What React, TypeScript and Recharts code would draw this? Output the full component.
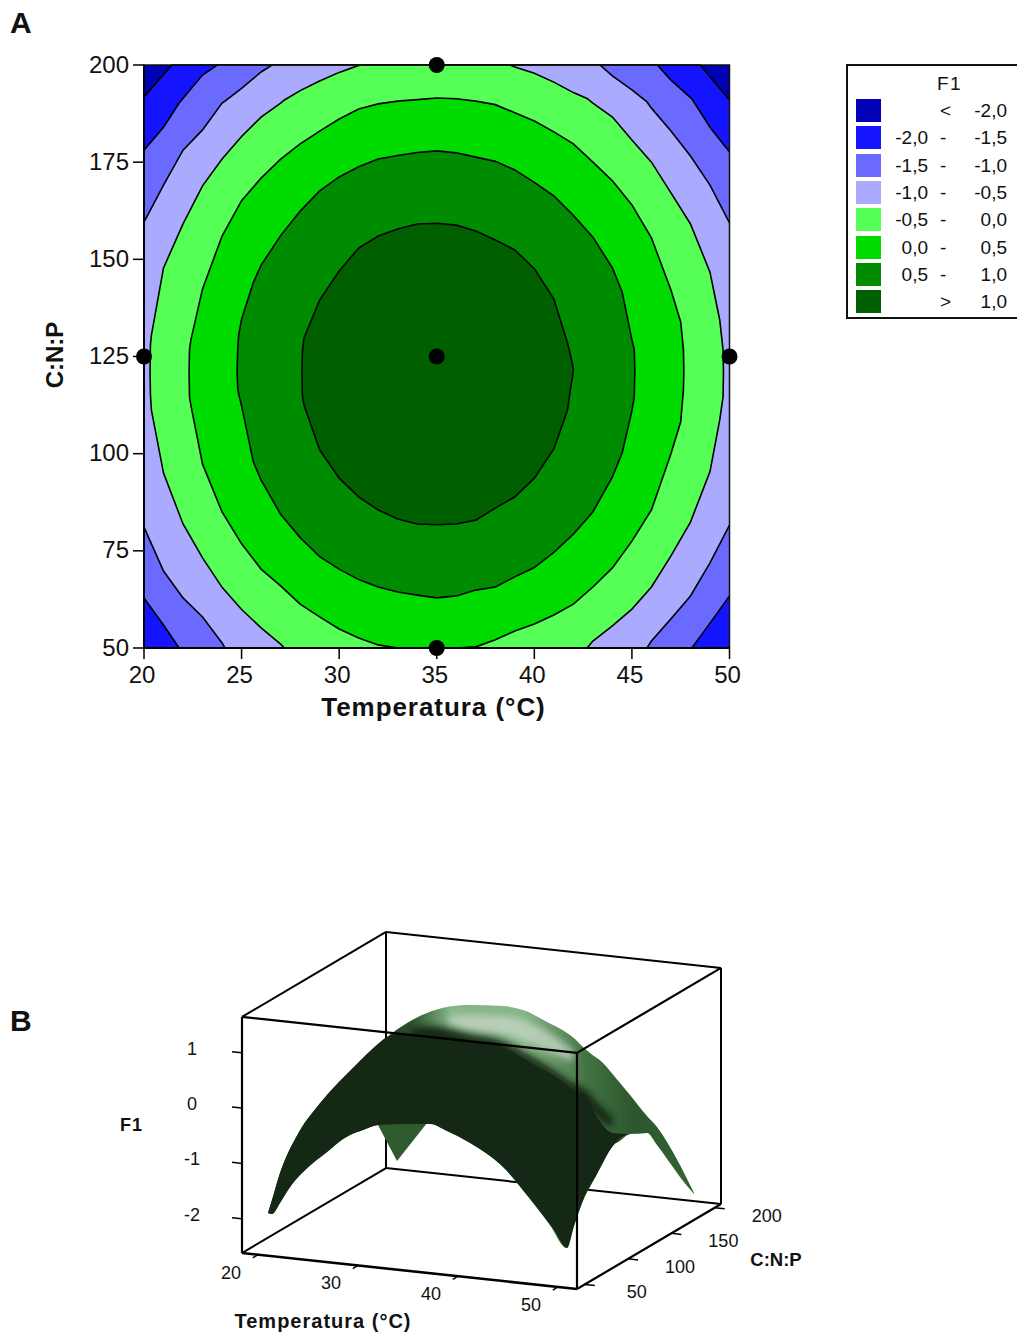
import { Area, ComposedChart, Line, ReferenceArea, Scatter, XAxis, YAxis } from 'recharts';

type Row = [number, number, number];

const FONT = '"Liberation Sans", Arial, sans-serif';
const INK = '#111111';

// contour regions of F1, each row is [temperature, lowest C:N:P, highest C:N:P]
const plotExtent: Row[] = [[20, 50, 200], [50, 50, 200]];
const contourMinus20: Row[] = [[20, 50, 191.8], [21.43, 50, 200], [48.5, 50, 200], [50, 50, 191]];
const contourMinus15: Row[] = [
  [20, 62.9, 178.1], [21, 55.9, 184], [21.8, 50, 190.2], [23, 50, 197.4], [23.75, 50, 200], [46.3, 50, 200],
  [47, 50, 196.1], [48.07, 50, 191.3], [49, 56.4, 184], [50, 63.4, 177.6],
];
const contourMinus10: Row[] = [
  [20, 81.1, 159.6], [21, 69.8, 169.1], [22, 62.9, 178.1], [23, 58, 183.3], [24, 51.3, 190.2], [24.15, 50, 190.7],
  [25, 50, 194], [26, 50, 198.2], [26.56, 50, 200], [43.36, 50, 200], [44, 50, 197.2], [45, 50, 193.6],
  [45.77, 50, 190.5], [46, 51.8, 188.9], [47, 57.5, 183], [48, 63.4, 176.6], [49, 71.9, 169.1], [50, 81.6, 159.4],
];
const contourMinus05: Row[] = [
  [20.31, 121, 121], [20.33, 115.1, 128], [20.38, 111.2, 130.5], [21, 95, 147.8], [22, 81.9, 159.1], [23, 73.2, 168.9],
  [24, 65.6, 175.8], [25, 59.9, 181.6], [26, 55.2, 186.6], [27, 51, 190.2], [27.2, 50, 191], [28, 50, 193.4],
  [29, 50, 195.9], [30, 50, 198.1], [31, 50, 199.9], [31.2, 50, 200], [38.75, 50, 200], [39, 50, 199.5], [40, 50, 197.9],
  [41, 50, 195.6], [42, 50, 192.9], [42.7, 50, 191.4], [43, 51.8, 190.2], [44, 55.7, 186.6], [45, 60, 180.7],
  [46, 65.7, 175], [47, 73.7, 167.1], [48, 82.4, 159.1], [49, 95.4, 146.7], [49.5, 108.7, 134.4], [49.67, 114.6, 126.7],
  [49.69, 121, 121],
];
const contourZero: Row[] = [
  [22.31, 120.8, 120.8], [22.33, 114.6, 126.7], [22.4, 112.5, 129.2], [23, 97.3, 142.4], [24, 85, 156], [25, 76.8, 165.1],
  [26, 70.3, 170.9], [27, 66, 175.8], [28, 61.3, 179.7], [29, 58, 183], [30, 54.9, 186.1], [31, 52.6, 188.7],
  [32, 50.8, 190], [33, 50, 190.7], [34, 50, 191.1], [35, 50, 191.5], [36, 50, 191.3], [37, 50.3, 190.7], [38, 52.1, 189.8],
  [39, 54.4, 187.7], [40, 56.2, 185.6], [41, 58.5, 182.8], [42, 61.3, 179.7], [43, 65.7, 175], [44, 70.6, 170.2],
  [45, 77.5, 164], [46, 85.5, 155.5], [47, 100, 142.1], [47.5, 108.2, 133.9], [47.64, 116.4, 126.7], [47.66, 121.5, 121.5],
];
const contourPlus05: Row[] = [
  [24.77, 121, 121], [24.8, 116.9, 126.7], [24.85, 115.4, 130.5], [25, 112.3, 134.6], [25.6, 97.9, 144], [26, 93.2, 148.5],
  [27, 84.4, 156.1], [28, 78.4, 162.4], [29, 73.5, 167.6], [30, 70.3, 171.2], [31, 67.6, 173.8], [32, 65.7, 175.8],
  [33, 64.4, 176.7], [34, 63.6, 177.5], [35, 62.9, 177.9], [36, 63.4, 177.4], [37, 64.9, 176.3], [38, 65.7, 175.2],
  [39, 68.3, 173], [40, 70.7, 169.8], [41, 74.6, 166.3], [42, 79.3, 161.3], [43, 85, 155.7], [44, 94, 147.8],
  [44.5, 100.2, 141.6], [45, 111, 129.3], [45.12, 114.6, 126.7], [45.15, 121.5, 121.5],
];
const contourPlus10: Row[] = [
  [28.09, 120.5, 120.5], [28.12, 114.6, 126.7], [28.2, 112.5, 129.8], [29, 101, 139.5], [30, 93.7, 147], [31, 88.9, 152.9],
  [32, 85.5, 156], [33, 83.2, 157.8], [34, 81.9, 159.1], [35, 81.7, 159.3], [36, 81.9, 158.8], [37, 82.9, 157.3],
  [38, 86, 155], [39, 88.9, 152.4], [40, 93.7, 147.6], [41, 101.2, 139.8], [41.7, 111.2, 128.5], [41.85, 116.6, 125.4],
  [41.95, 119.5, 123.2], [42, 121.5, 121.5],
];
const designPoints = [
  { t: 35, cn: 200 }, { t: 35, cn: 125 }, { t: 35, cn: 50 }, { t: 20, cn: 125 }, { t: 50, cn: 125 },
];
const contourTicksX = [20, 25, 30, 35, 40, 45, 50];
const contourTicksY = [50, 75, 100, 125, 150, 175, 200];

const legendColors = ['#0000b4', '#1414ff', '#6a6aff', '#aaaaff', '#55ff55', '#00dc00', '#008c00', '#006000'];
const legendFrom = ['', '-2,0', '-1,5', '-1,0', '-0,5', '0,0', '0,5', ''];
const legendSign = ['<', '-', '-', '-', '-', '-', '-', '>'];
const legendTo = ['-2,0', '-1,5', '-1,0', '-0,5', '0,0', '0,5', '1,0', '1,0'];

// surface in the view plane, rows are [across, top edge, bottom edge]
const surfaceOutline: Row[] = [
  [268, 1213, 1213], [272, 1200, 1214], [280, 1173, 1203], [288, 1153, 1190], [293, 1143, 1183], [302, 1127, 1173],
  [313, 1112, 1163], [327, 1095, 1152], [343, 1078, 1139], [350, 1071, 1135], [363, 1058, 1130], [378, 1044, 1125],
  [387, 1037, 1124.5], [407, 1023, 1124], [427, 1013, 1123], [447, 1007, 1131], [470, 1005, 1143], [503, 1006, 1167],
  [523, 1010, 1190], [547, 1022, 1220], [567, 1033, 1248], [575, 1039, 1223], [583, 1047, 1200], [590, 1053, 1187],
  [603, 1063, 1162], [610, 1071, 1148], [620, 1083, 1141], [630, 1095, 1134], [647, 1116, 1133], [657, 1127, 1145],
  [670, 1147, 1163], [680, 1165, 1177], [694, 1193, 1194],
];
const surfaceFront: Row[] = [
  [268, 1213, 1213], [272, 1200, 1214], [280, 1173, 1203], [288, 1153, 1190], [293, 1143, 1183], [302, 1127, 1173],
  [313, 1112, 1163], [327, 1095, 1152], [343, 1078, 1139], [350, 1071, 1135], [363, 1058, 1130], [378, 1044, 1125],
  [387, 1037, 1124.5], [400, 1034, 1124], [430, 1034, 1124], [447, 1036, 1131], [470, 1040, 1143], [503, 1047, 1167],
  [530, 1062, 1199], [553, 1075, 1229], [567, 1085, 1248], [573, 1090, 1229], [585, 1095, 1196], [597, 1117, 1174],
  [613, 1133, 1146], [630, 1134, 1134], [647, 1133, 1133],
];
const surfaceNotch: Row[] = [[378, 1124, 1125], [397, 1124, 1161], [427, 1123, 1123]];
const surfaceGlow: Row[] = [
  [450, 1016, 1024], [470, 1015, 1030], [503, 1016, 1034], [530, 1023, 1043], [553, 1035, 1054], [573, 1050, 1062],
];
const surfaceShade: Row[] = [
  [410, 1029, 1042], [430, 1026, 1040], [470, 1034, 1045], [503, 1041, 1052], [530, 1055, 1066], [553, 1069, 1080],
  [573, 1083, 1095], [585, 1089, 1105], [597, 1102, 1118], [613, 1118, 1128],
];

const boxT = [18.4, 51.9];
const boxCn = [41, 207.3];
const boxF = [-2.62, 1.65];
const surfaceTicksT = [20, 30, 40, 50];
const surfaceTicksCn = [50, 100, 150, 200];
const surfaceTicksF = [1, 0, -1, -2];

const project = (t: number, cn: number, f: number) => ({
  x: 242 + 10 * (t - boxT[0]) + 0.866 * (cn - boxCn[0]),
  y: 1253 + 1.075 * (t - boxT[0]) - 0.511 * (cn - boxCn[0]) - 55.3 * (f - boxF[0]),
});

const toRange = (rows: Row[]) => rows.map(([t, lo, hi]) => ({ t, range: [lo, hi] }));
const toView = (rows: Row[]) => rows.map(([x, top, bottom]) => ({ x, range: [top, bottom] }));
const edge = (a: number[], b: number[]) => [project(a[0], a[1], a[2]), project(b[0], b[1], b[2])];

const [t0, t1] = boxT;
const [c0, c1] = boxCn;
const [f0, f1] = boxF;
const backEdges = [
  edge([t0, c1, f0], [t0, c1, f1]),
  edge([t0, c1, f0], [t1, c1, f0]),
  edge([t0, c1, f0], [t0, c0, f0]),
  edge([t0, c1, f1], [t1, c1, f1]),
  edge([t0, c1, f1], [t0, c0, f1]),
  edge([t1, c1, f0], [t1, c1, f1]),
];
const frontEdges = [
  edge([t0, c0, f1], [t1, c0, f1]),
  edge([t1, c0, f0], [t1, c0, f1]),
  edge([t0, c0, f0], [t0, c0, f1]),
  edge([t0, c0, f0], [t1, c0, f0]),
  edge([t1, c0, f0], [t1, c1, f0]),
  edge([t1, c0, f1], [t1, c1, f1]),
];
const tickEdges = [
  ...surfaceTicksT.map((t) => edge([t, c0, f0], [t, c0 - 6, f0])),
  ...surfaceTicksCn.map((c) => edge([t1, c, f0], [t1 + 1, c, f0])),
  ...surfaceTicksF.map((f) => edge([t0, c0, f], [t0 - 1, c0, f])),
];
const tickLabels = [
  ...surfaceTicksT.map((t) => ({ ...project(t, c0, f0), text: String(t), dx: -27, dy: 24 })),
  ...surfaceTicksCn.map((c) => ({ ...project(t1, c, f0), text: String(c), dx: 52, dy: 14 })),
  ...surfaceTicksF.map((f) => ({ ...project(t0, c0, f), text: String(f), dx: -50, dy: 2 })),
];

const regions: [Row[], string][] = [
  [contourMinus20, legendColors[1]],
  [contourMinus15, legendColors[2]],
  [contourMinus10, legendColors[3]],
  [contourMinus05, legendColors[4]],
  [contourZero, legendColors[5]],
  [contourPlus05, legendColors[6]],
  [contourPlus10, legendColors[7]],
];

function F1Legend() {
  return (
    <div
      style={{
        position: 'absolute', left: 846, top: 64, width: 173, height: 255, border: '2px solid #111',
        boxSizing: 'border-box', fontFamily: FONT, fontSize: 19, color: INK, background: '#fff',
      }}
    >
      <div style={{ position: 'absolute', left: 89, top: 7, letterSpacing: 1.5 }}>F1</div>
      {legendColors.map((color, i) => (
        <div key={color} style={{ position: 'absolute', left: 0, top: 33 + i * 27.3, width: 171, height: 24 }}>
          <div style={{ position: 'absolute', left: 8, top: 0, width: 25, height: 23, background: color }} />
          <div style={{ position: 'absolute', right: 91, top: 0, lineHeight: '24px' }}>{legendFrom[i]}</div>
          <div style={{ position: 'absolute', left: 92, top: 0, lineHeight: '24px' }}>{legendSign[i]}</div>
          <div style={{ position: 'absolute', right: 12, top: 0, lineHeight: '24px' }}>{legendTo[i]}</div>
        </div>
      ))}
    </div>
  );
}

function ContourChart() {
  const tickStyle = { fontSize: 24, fontFamily: FONT, fill: INK };
  return (
    <ComposedChart
      width={760}
      height={740}
      margin={{ top: 65, right: 30.5, left: 84, bottom: 32 }}
      style={{ position: 'absolute', left: 0, top: 0 }}
    >
      <XAxis
        dataKey="t"
        type="number"
        domain={[20, 50]}
        ticks={contourTicksX}
        interval={0}
        height={60}
        tickSize={11}
        tickMargin={7}
        tick={{ ...tickStyle, dx: -2 }}
        axisLine={{ stroke: '#000', strokeWidth: 2 }}
        tickLine={{ stroke: '#000', strokeWidth: 1.5 }}
      />
      <YAxis
        type="number"
        domain={[50, 200]}
        ticks={contourTicksY}
        interval={0}
        width={60}
        tickSize={11}
        tickMargin={4}
        tick={{ ...tickStyle, dy: -1 }}
        axisLine={{ stroke: '#000', strokeWidth: 2 }}
        tickLine={{ stroke: '#000', strokeWidth: 1.5 }}
      />
      <Area
        data={toRange(plotExtent)}
        dataKey="range"
        type="linear"
        fill={legendColors[0]}
        fillOpacity={1}
        stroke="none"
        isAnimationActive={false}
      />
      {regions.map(([rows, color]) => (
        <Area
          key={color}
          data={toRange(rows)}
          dataKey="range"
          type="linear"
          fill={color}
          fillOpacity={1}
          stroke="#000"
          strokeWidth={1.6}
          isAnimationActive={false}
        />
      ))}
      <ReferenceArea x1={20} x2={50} y1={50} y2={200} fill="none" stroke="#111" strokeWidth={1.5} />
      <Scatter data={designPoints} dataKey="cn" fill="#000" isAnimationActive={false}
        shape={(p: any) => <circle cx={p.cx} cy={p.cy} r={8} fill="#000" />}
      />
      <text x={433.5} y={716} textAnchor="middle" fontFamily={FONT} fontWeight="bold" fontSize={26} letterSpacing={0.95} fill={INK}>
        Temperatura (°C)
      </text>
      <text
        x={63}
        y={355}
        textAnchor="middle"
        transform="rotate(-90 63 355)"
        fontFamily={FONT}
        fontWeight="bold"
        fontSize={24}
        fill={INK}
      >
        C:N:P
      </text>
    </ComposedChart>
  );
}

function SurfaceChart() {
  const textProps = { fontFamily: FONT, fill: INK };
  return (
    <ComposedChart
      width={1017}
      height={436}
      margin={{ top: 0, right: 0, left: 0, bottom: 0 }}
      style={{ position: 'absolute', left: 0, top: 900 }}
    >
      <defs>
        <linearGradient id="litSurface" x1="0" y1="0" x2="1" y2="0">
          <stop offset="0.28" stopColor="#1f3a1f" />
          <stop offset="0.34" stopColor="#2f552f" />
          <stop offset="0.43" stopColor="#86b686" />
          <stop offset="0.6" stopColor="#86b686" />
          <stop offset="0.75" stopColor="#427242" />
          <stop offset="0.86" stopColor="#2c562c" />
          <stop offset="1" stopColor="#346634" />
        </linearGradient>
        <filter id="softEdge" x="-30%" y="-30%" width="160%" height="160%">
          <feGaussianBlur stdDeviation="3.5" />
        </filter>
      </defs>
      <XAxis dataKey="x" type="number" domain={[0, 1017]} hide />
      <YAxis type="number" domain={[900, 1336]} reversed hide />
      {backEdges.map((points, i) => (
        <Line key={`back${i}`} data={points} dataKey="y" type="linear" stroke="#000" strokeWidth={2} dot={false}
          isAnimationActive={false} zIndex={50} />
      ))}
      <Area data={toView(surfaceOutline)} dataKey="range" type="monotoneX" fill="url(#litSurface)" fillOpacity={1}
        stroke="none" isAnimationActive={false} zIndex={100} />
      <Area data={toView(surfaceNotch)} dataKey="range" type="linear" fill="#2f5c2f" fillOpacity={1}
        stroke="none" isAnimationActive={false} zIndex={100} />
      <Area data={toView(surfaceGlow)} dataKey="range" type="monotoneX" fill="#c8d6c8" fillOpacity={0.75}
        stroke="none" filter="url(#softEdge)" isAnimationActive={false} zIndex={100} />
      <Area data={toView(surfaceShade)} dataKey="range" type="monotoneX" fill="#152815" fillOpacity={1}
        stroke="none" filter="url(#softEdge)" isAnimationActive={false} zIndex={100} />
      <Area data={toView(surfaceFront)} dataKey="range" type="monotoneX" fill="#152815" fillOpacity={1}
        stroke="none" isAnimationActive={false} zIndex={100} />
      {frontEdges.map((points, i) => (
        <Line key={`front${i}`} data={points} dataKey="y" type="linear" stroke="#000" strokeWidth={i === 3 ? 2.6 : 2.2} dot={false}
          isAnimationActive={false} zIndex={400} />
      ))}
      {tickEdges.map((points, i) => (
        <Line key={`tick${i}`} data={points} dataKey="y" type="linear" stroke="#000" strokeWidth={1.5} dot={false}
          isAnimationActive={false} zIndex={400} />
      ))}
      <Scatter
        data={tickLabels}
        dataKey="y"
        isAnimationActive={false}
        shape={(p: any) => (
          <text x={p.cx + p.payload.dx} y={p.cy + p.payload.dy} textAnchor="middle" fontSize={18} {...textProps}>
            {p.payload.text}
          </text>
        )}
      />
      <text x={131.5} y={231} textAnchor="middle" fontSize={18} fontWeight="bold" letterSpacing={1} {...textProps}>F1</text>
      <text x={776} y={366} textAnchor="middle" fontSize={18.5} fontWeight="bold" {...textProps}>C:N:P</text>
      <text x={323} y={428} textAnchor="middle" fontSize={20} fontWeight="bold" letterSpacing={1} {...textProps}>
        Temperatura (°C)
      </text>
    </ComposedChart>
  );
}

export default function App() {
  const panelLabel = { position: 'absolute', left: 10, fontFamily: FONT, fontWeight: 'bold', fontSize: 30, color: INK } as const;
  return (
    <div style={{ position: 'absolute', left: 0, top: 0, width: 1017, height: 1336, overflow: 'hidden', background: '#fff' }}>
      <ContourChart />
      <F1Legend />
      <SurfaceChart />
      <div style={{ ...panelLabel, top: 6 }}>A</div>
      <div style={{ ...panelLabel, top: 1004 }}>B</div>
    </div>
  );
}
